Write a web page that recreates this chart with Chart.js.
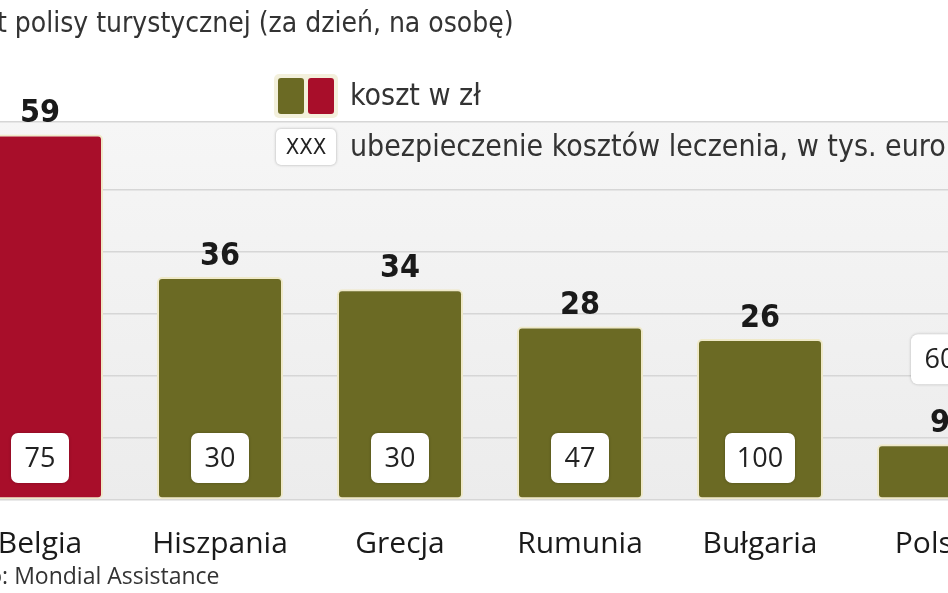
<!DOCTYPE html>
<html><head><meta charset="utf-8">
<script src="https://cdn.jsdelivr.net/npm/chart.js@4"></script>
<style>
html,body{margin:0;padding:0;width:948px;height:593px;overflow:hidden;background:#fff;position:relative}
#wrap{position:absolute;left:-50px;top:0;width:1080px;height:593px}
</style></head><body>
<div id="wrap"><canvas id="c" width="1080" height="593"></canvas></div>
<script>
const categories=['Belgia','Hiszpania','Grecja','Rumunia','Bułgaria','Polska'];
const costPLN=[59,36,34,28,26,9];
const coverageEUR=[75,30,30,47,100,60];
const barColors=['#a80e2a','#6b6a24','#6b6a24','#6b6a24','#6b6a24','#6b6a24'];
const title='Koszt polisy turystycznej (za dzień, na osobę)';
const source='Źródło: Mondial Assistance';
const OFF=50;
function rr(ctx,x,y,w,h,r){ctx.beginPath();ctx.moveTo(x+r,y);ctx.arcTo(x+w,y,x+w,y+h,r);ctx.arcTo(x+w,y+h,x,y+h,r);ctx.arcTo(x,y+h,x,y,r);ctx.arcTo(x,y,x+w,y,r);ctx.closePath();}
const deco={id:'deco',
beforeDraw(ch){const c=ch.ctx,a=ch.chartArea;c.save();
 const g=c.createLinearGradient(0,a.top,0,a.bottom);g.addColorStop(0,'#f6f6f6');g.addColorStop(1,'#ececec');
 c.fillStyle=g;c.fillRect(0,a.top,ch.width,a.bottom-a.top);c.restore();},
afterDatasetsDraw(ch){const c=ch.ctx;const meta=ch.getDatasetMeta(0);c.save();
 c.textAlign='center';c.textBaseline='alphabetic';
 meta.data.forEach((b,i)=>{
  const v=costPLN[i];const top=b.y;const x=b.x;
  let bh=50,by=ch.chartArea.bottom-67;
  if(b.base-top<110){by=top-110;}
  c.fillStyle='#1a1a1a';c.font='bold 32px "DejaVu Sans Condensed","DejaVu Sans"';
  c.fillText(String(v),x,top-12);
  const bwid=coverageEUR[i]>=100?70:58;const bx=x-bwid/2;
  c.shadowColor='rgba(0,0,0,0.25)';c.shadowBlur=3;
  c.fillStyle='#fff';rr(c,bx,by,bwid,bh,7);c.fill();c.shadowBlur=0;
  c.fillStyle='#222';c.font='27px "Open Sans"';c.textBaseline='middle';
  c.fillText(String(coverageEUR[i]),x,by+bh/2+1);c.textBaseline='alphabetic';
 });
 c.textAlign='left';c.fillStyle='#333';
 c.font='28px "DejaVu Sans Condensed"';c.fillText(title,OFF-60,32);
 c.fillStyle='#f3f0dc';rr(c,OFF+274,74,64,44,5);c.fill();
 c.fillStyle='#6b6a24';rr(c,OFF+278,78,26,36,3);c.fill();
 c.fillStyle='#a80e2a';rr(c,OFF+308,78,26,36,3);c.fill();
 c.fillStyle='#333';c.font='30px "DejaVu Sans Condensed"';c.textBaseline='middle';
 c.fillText('koszt w zł',OFF+350,97);
 c.shadowColor='rgba(0,0,0,0.3)';c.shadowBlur=3;c.fillStyle='#fff';rr(c,OFF+276,129,60,36,5);c.fill();c.shadowBlur=0;
 c.fillStyle='#222';c.font='22px "DejaVu Sans Condensed"';c.textAlign='center';c.fillText('XXX',OFF+306,148);
 c.textAlign='left';c.fillStyle='#333';c.font='30px "DejaVu Sans Condensed"';
 c.fillText('ubezpieczenie kosztów leczenia, w tys. euro',OFF+350,148);
 c.font='23px "Open Sans"';c.fillStyle='#333';c.fillText(source,OFF-68,577);
 c.restore();}
};
new Chart(document.getElementById('c'),{type:'bar',
data:{labels:categories,datasets:[{data:costPLN,backgroundColor:barColors,borderColor:'#efe9c8',borderWidth:2,borderRadius:5,borderSkipped:false,categoryPercentage:1,barPercentage:0.7}]},
options:{responsive:false,animation:false,devicePixelRatio:1,
 layout:{padding:{top:122,left:0,right:0,bottom:0}},
 plugins:{legend:{display:false},tooltip:{enabled:false}},
 scales:{
  y:{min:0,max:61,display:true,border:{display:false},ticks:{display:false,stepSize:10},grid:{color:'#d6d6d6',lineWidth:1.5,drawTicks:false},afterFit(s){s.width=0;}},
  x:{border:{display:false},grid:{display:false},ticks:{color:'#1a1a1a',padding:18,font:{family:'Open Sans',size:30}},afterFit(s){s.height=93;}}
 }},
plugins:[deco]});
</script>
</body></html>
